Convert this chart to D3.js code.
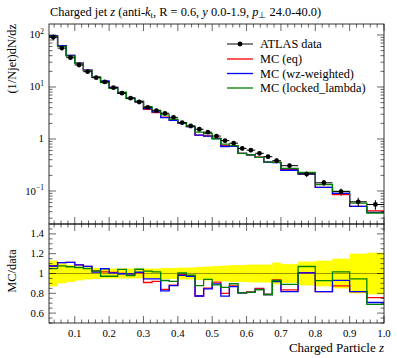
<!DOCTYPE html>
<html><head><meta charset="utf-8">
<script src="https://cdn.jsdelivr.net/npm/d3@7"></script>
<style>body{margin:0;background:#fff}svg{display:block}text{font-family:"Liberation Serif",serif;fill:#000}</style>
</head><body><svg id="c" width="397" height="358"></svg>
<script>
// bin edges (z)
const edges = [0.025,0.05,0.075,0.1,0.125,0.15,0.175,0.2,0.225,0.25,0.275,0.3,0.325,0.35,0.375,0.4,0.425,0.45,0.475,0.5,0.525,0.55,0.575,0.6,0.625,0.65,0.675,0.7,0.75,0.8,0.85,0.9,0.95,1.0];
const dataVals = [90,56,36.6,26.5,19.7,15.1,12.5,9.7,7.6,6.1,5.15,4.07,3.5,3.12,2.61,2.06,1.78,1.54,1.35,1.14,0.93,0.83,0.66,0.61,0.53,0.457,0.383,0.307,0.212,0.144,0.097,0.062,0.055];
const dataRelErr = [0.13,0.10,0.085,0.07,0.06,0.055,0.05,0.05,0.05,0.05,0.05,0.05,0.05,0.055,0.055,0.06,0.06,0.065,0.07,0.075,0.08,0.085,0.085,0.09,0.09,0.09,0.11,0.095,0.12,0.13,0.15,0.2,0.21];
const mcEq = [96.8,62.2,40.7,28.8,21.1,15.5,12.7,9.8,7.6,6.08,5.2,3.70,3.22,2.62,2.30,2.04,1.74,1.19,1.15,1.04,0.744,0.726,0.531,0.497,0.450,0.360,0.358,0.256,0.214,0.1175,0.0849,0.0506,0.0416];
const mcWz = [96.8,62.2,40.7,28.8,21.1,15.3,13.1,9.77,7.58,6.08,5.22,3.85,3.31,2.57,2.29,2.02,1.73,1.19,1.14,1.02,0.717,0.720,0.531,0.494,0.445,0.360,0.352,0.2505,0.2135,0.1175,0.0902,0.0506,0.0389];
const mcLocked = [94.4,60.3,39.1,28.1,20.7,15.5,12.15,9.43,7.92,5.97,5.37,4.17,3.56,2.90,2.40,2.07,1.75,1.35,1.27,1.01,0.80,0.744,0.531,0.494,0.443,0.360,0.356,0.273,0.227,0.1335,0.0986,0.0586,0.0378];
const seriesNames = ["MC (eq)","MC (wz-weighted)","MC (locked_lambda)"];
const seriesColors = ["#ff0000","#0000ff","#008000"];
const xTicks = [0.1,0.2,0.3,0.4,0.5,0.6,0.7,0.8,0.9,1.0];
const yTicksMain = [100,10,1,0.1];
const yTicksRatio = [0.6,0.8,1.0,1.2,1.4];

const svg = d3.select("#c");
const L=49,R=384,T=24,M=224,B=323;
const x = d3.scaleLinear().domain([0.025,1.0]).range([L,R]);
const y = d3.scaleLog().domain([0.0232,162.7]).range([M,T]);
const yr = d3.scaleLinear().domain([0.5,1.5]).range([B,M]);

const defs = svg.append("defs");
defs.append("clipPath").attr("id","cm").append("rect").attr("x",L).attr("y",T).attr("width",R-L).attr("height",M-T);
defs.append("clipPath").attr("id","cr").append("rect").attr("x",L).attr("y",M).attr("width",R-L).attr("height",B-M);

const mcs = [mcEq,mcWz,mcLocked];
function stepPts(vals){const p=vals.map((v,i)=>[edges[i],v]);p.push([edges[vals.length],vals[vals.length-1]]);return p;}

// main panel
const gm = svg.append("g").attr("clip-path","url(#cm)");
mcs.forEach((s,k)=>{
  gm.append("path").attr("d",d3.line().x(d=>x(d[0])).y(d=>y(d[1])).curve(d3.curveStepAfter)(stepPts(s)))
    .attr("fill","none").attr("stroke",seriesColors[k]).attr("stroke-width",1.3);
});
dataVals.forEach((v,i)=>{
  const xc = x((edges[i]+edges[i+1])/2);
  gm.append("line").attr("x1",x(edges[i])).attr("x2",x(edges[i+1])).attr("y1",y(v)).attr("y2",y(v)).attr("stroke","#000").attr("stroke-width",1);
  gm.append("line").attr("x1",xc).attr("x2",xc).attr("y1",y(v*(1-dataRelErr[i]))).attr("y2",y(v*(1+dataRelErr[i]))).attr("stroke","#000").attr("stroke-width",1);
  gm.append("circle").attr("cx",xc).attr("cy",y(v)).attr("r",2.4).attr("fill","#000");
});

// ratio panel
const gr = svg.append("g").attr("clip-path","url(#cr)");
dataVals.forEach((v,i)=>{
  gr.append("rect").attr("x",x(edges[i])).attr("width",x(edges[i+1])-x(edges[i])+0.3)
    .attr("y",yr(1+dataRelErr[i])).attr("height",yr(1-dataRelErr[i])-yr(1+dataRelErr[i])).attr("fill","#ffff00");
});
gr.append("line").attr("x1",L).attr("x2",R).attr("y1",yr(1)).attr("y2",yr(1)).attr("stroke","#808000").attr("stroke-width",0.8);
mcs.forEach((s,k)=>{
  const r = s.map((v,i)=>v/dataVals[i]);
  gr.append("path").attr("d",d3.line().x(d=>x(d[0])).y(d=>yr(d[1])).curve(d3.curveStepAfter)(stepPts(r)))
    .attr("fill","none").attr("stroke",seriesColors[k]).attr("stroke-width",1.3);
});

// frames
[[T,M],[M,B]].forEach(([a,b])=>svg.append("rect").attr("x",L).attr("y",a).attr("width",R-L).attr("height",b-a).attr("fill","none").attr("stroke","#000").attr("stroke-width",0.8));

// ticks
const tk = svg.append("g").attr("stroke","#000").attr("stroke-width",0.6);
const xMinor = d3.range(2,51).map(k=>k*0.02).filter(v=>v>0.026&&v<0.999);
function xt(v,len,yA,dir){tk.append("line").attr("x1",x(v)).attr("x2",x(v)).attr("y1",yA).attr("y2",yA+dir*len);}
[[T,1],[M,-1],[M,1],[B,-1]].forEach(([yy,dir])=>{
  xTicks.forEach(v=>xt(v,7,yy,dir));
  xMinor.forEach(v=>{ if(!xTicks.some(t=>Math.abs(t-v)<1e-6)) xt(v,3.5,yy,dir);});
});
function ytk(yy,len){tk.append("line").attr("x1",L).attr("x2",L+len).attr("y1",yy).attr("y2",yy);tk.append("line").attr("x1",R).attr("x2",R-len).attr("y1",yy).attr("y2",yy);}
[0.01,0.1,1,10,100].forEach(d=>{
  for(let m=1;m<10;m++){const v=d*m; if(v<y.domain()[0]||v>y.domain()[1]) continue; ytk(y(v), m===1?7:3.5);}
});
d3.range(10,30).map(k=>k*0.05).forEach(v=>{
  const major = yTicksRatio.some(t=>Math.abs(t-v)<1e-6);
  ytk(yr(v), major?7:3.5);
});

// labels
const fs=10.8;
xTicks.forEach(v=>svg.append("text").attr("x",x(v)).attr("y",337).attr("text-anchor","middle").attr("font-size",fs).text(d3.format(".1f")(v)));
yTicksMain.forEach(v=>{
  const t = svg.append("text").attr("x",44).attr("y",y(v)+3.5).attr("text-anchor","end").attr("font-size",fs);
  const e = Math.round(Math.log10(v));
  if(e===0){t.text("1");}
  else {t.append("tspan").text("10"); t.append("tspan").attr("dy",-4.5).attr("font-size",7.5).text(String(e).replace("-","\u2212"));}
});
yTicksRatio.forEach(v=>svg.append("text").attr("x",44).attr("y",yr(v)+3.5).attr("text-anchor","end").attr("font-size",fs).text(v===1?"1":d3.format(".1f")(v)));

// title
const title = svg.append("text").attr("x",50).attr("y",16).attr("font-size",12.4);
title.append("tspan").text("Charged jet ");
title.append("tspan").attr("font-style","italic").text("z");
title.append("tspan").text(" (anti-");
title.append("tspan").attr("font-style","italic").text("k");
title.append("tspan").attr("font-size",8.5).attr("dy",2).text("t");
title.append("tspan").attr("dy",-2).text(", R = 0.6, ");
title.append("tspan").attr("font-style","italic").text("y");
title.append("tspan").text(" 0.0-1.9, ");
title.append("tspan").attr("font-style","italic").text("p");
title.append("tspan").attr("font-size",8.5).attr("dy",2).text("\u22a5");
title.append("tspan").attr("dy",-2).text(" 24.0-40.0)");

svg.append("text").attr("transform","translate(16,24) rotate(-90)").attr("text-anchor","end").attr("font-size",12.4).text("(1/Njet)dN/dz");
svg.append("text").attr("transform","translate(16,271) rotate(-90)").attr("text-anchor","middle").attr("font-size",12.4).text("MC/data");
const xl = svg.append("text").attr("x",R).attr("y",352).attr("text-anchor","end").attr("font-size",13);
xl.append("tspan").text("Charged Particle ");
xl.append("tspan").attr("font-style","italic").text("z");

// legend
const lg = svg.append("g");
const legY=[44,59,73.5,88];
lg.append("line").attr("x1",227).attr("x2",253).attr("y1",legY[0]).attr("y2",legY[0]).attr("stroke","#000").attr("stroke-width",1);
lg.append("circle").attr("cx",240).attr("cy",legY[0]).attr("r",2.4).attr("fill","#000");
lg.append("text").attr("x",260).attr("y",legY[0]+4).attr("font-size",12.3).text("ATLAS data");
seriesNames.forEach((n,k)=>{
  lg.append("line").attr("x1",227).attr("x2",253).attr("y1",legY[k+1]).attr("y2",legY[k+1]).attr("stroke",seriesColors[k]).attr("stroke-width",1.3);
  lg.append("text").attr("x",260).attr("y",legY[k+1]+4).attr("font-size",12.3).text(n);
});
</script></body></html>
